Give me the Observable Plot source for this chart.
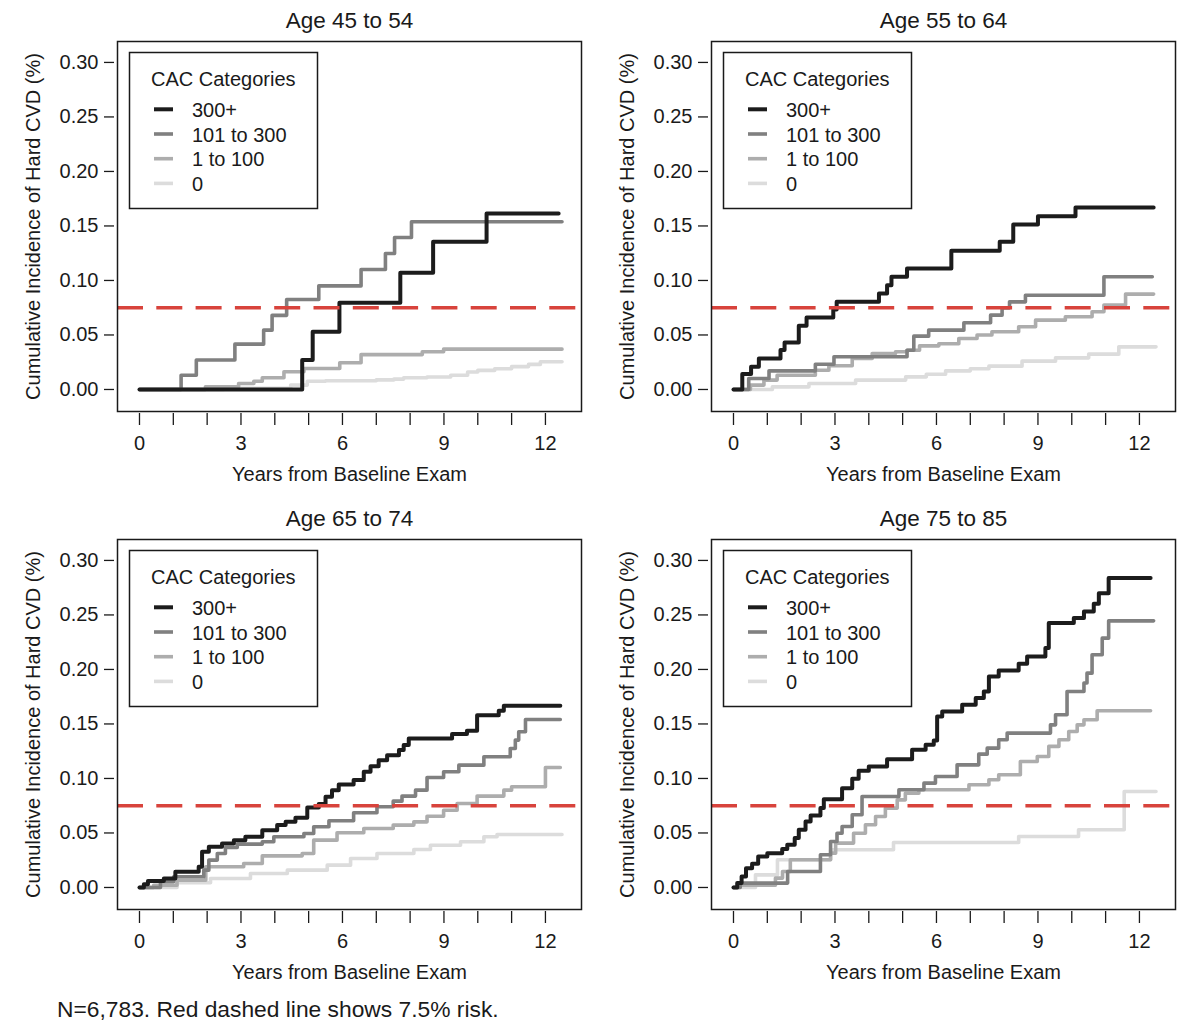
<!DOCTYPE html>
<html><head><meta charset="utf-8">
<script src="https://cdn.jsdelivr.net/npm/d3@7"></script>
<script src="https://cdn.jsdelivr.net/npm/@observablehq/plot@0.6"></script>
<style>
body{margin:0;background:#fff;}
#wrap{position:relative;width:1200px;height:1033px;font-family:"Liberation Sans",Arial,sans-serif;color:#1a1a1a;background:#fff;}
.panel{position:absolute;width:600px;height:498px;}
#caption{position:absolute;left:57px;top:998px;font-size:22.8px;line-height:22.8px;white-space:nowrap;}
</style></head><body><div id="wrap"></div><script>
// ---------- data ----------
const categories = ["300+", "101 to 300", "1 to 100", "0"];
const categoryColors = ["#1c1c1c", "#808080", "#adadad", "#dcdcdc"];
const panelTitles = ["Age 45 to 54", "Age 55 to 64", "Age 65 to 74", "Age 75 to 85"];
const xTicks = [0,1,2,3,4,5,6,7,8,9,10,11,12];
const xTickLabels = [0,3,6,9,12];
const yTicks = [0,0.05,0.10,0.15,0.20,0.25,0.30];
const riskThreshold = 0.075;
const xLabel = "Years from Baseline Exam";
const yLabel = "Cumulative Incidence of Hard CVD (%)";
const legendTitle = "CAC Categories";
const captionText = "N=6,783. Red dashed line shows 7.5% risk.";

// [years, cumulative incidence] step points
const age45_cac300 = [[0,0],[4.81,0.027],[5.12,0.053],[5.91,0.0795],[7.71,0.107],[8.68,0.1355],[10.26,0.1615],[12.39,0.1615]];
const age45_cac101 = [[0,0],[1.23,0.013],[1.68,0.027],[2.82,0.0416],[3.67,0.0544],[3.92,0.068],[4.35,0.0826],[5.30,0.095],[6.55,0.110],[7.27,0.1248],[7.54,0.1394],[8.04,0.1538],[12.49,0.1538]];
const age45_cac1 = [[0,0],[1.95,0.0024],[2.93,0.0055],[3.38,0.0076],[3.63,0.0107],[4.27,0.0162],[4.86,0.0193],[5.92,0.0245],[6.55,0.032],[8.36,0.0346],[8.99,0.037],[12.49,0.037]];
const age45_cac0 = [[0,0],[2.5,0.001],[4.47,0.004],[4.96,0.0076],[5.5,0.008],[7.0,0.0088],[7.52,0.0095],[7.81,0.0107],[8.5,0.0115],[9.2,0.013],[9.7,0.016],[10.0,0.0175],[10.5,0.019],[11.0,0.021],[11.5,0.023],[11.85,0.0254],[12.49,0.0254]];

const age55_cac300 = [[0,0],[0.26,0.0141],[0.52,0.0208],[0.75,0.0284],[1.39,0.0361],[1.51,0.0431],[1.93,0.0584],[2.16,0.066],[2.95,0.0734],[3.05,0.0804],[4.30,0.0881],[4.54,0.0957],[4.67,0.1034],[5.13,0.111],[6.44,0.1272],[7.87,0.1355],[8.27,0.1514],[9.00,0.159],[10.11,0.167],[12.42,0.167]];
const age55_cac101 = [[0,0],[0.45,0.0101],[1.05,0.0171],[2.42,0.0232],[2.97,0.030],[5.13,0.036],[5.33,0.0489],[5.77,0.0544],[6.81,0.0612],[7.60,0.0682],[7.94,0.0749],[8.16,0.0804],[8.63,0.0865],[10.95,0.1034],[12.38,0.1034]];
const age55_cac1 = [[0,0],[0.5,0.004],[0.9,0.0086],[1.29,0.013],[2.42,0.0177],[2.82,0.0217],[3.51,0.0284],[4.1,0.033],[4.79,0.0346],[5.13,0.036],[5.5,0.040],[6.07,0.042],[6.66,0.0468],[7.2,0.050],[7.64,0.0529],[8.43,0.0575],[8.93,0.0636],[9.81,0.0667],[10.6,0.0713],[10.95,0.0774],[11.59,0.0875],[12.42,0.0875]];
const age55_cac0 = [[0,0],[1.15,0.0024],[2.23,0.0055],[3.61,0.0086],[5.09,0.0116],[5.7,0.014],[6.27,0.0171],[7.0,0.019],[7.55,0.0214],[8.53,0.026],[9.52,0.029],[10.5,0.0324],[11.39,0.0391],[12.49,0.0391]];

const age65_cac300 = [[0,0],[0.13,0.003],[0.25,0.006],[0.72,0.0083],[1.06,0.0144],[1.75,0.019],[1.85,0.0327],[2.05,0.0373],[2.44,0.0404],[2.79,0.0434],[3.13,0.0465],[3.63,0.0526],[4.07,0.0572],[4.32,0.0602],[4.61,0.0639],[4.96,0.0734],[5.3,0.0765],[5.5,0.0832],[5.69,0.0893],[5.89,0.0945],[6.33,0.0985],[6.63,0.1061],[6.83,0.1113],[7.07,0.1168],[7.32,0.1214],[7.67,0.126],[7.81,0.1306],[7.96,0.1367],[9.24,0.1407],[9.68,0.1437],[9.98,0.1581],[10.62,0.1621],[10.77,0.1667],[12.44,0.1667]];
const age65_cac101 = [[0,0],[0.62,0.0052],[1.01,0.0098],[1.9,0.0159],[2.05,0.0251],[2.3,0.0312],[2.54,0.0367],[2.89,0.0398],[3.63,0.0419],[3.97,0.0465],[4.86,0.0495],[5.15,0.0557],[5.6,0.0612],[6.33,0.0685],[7.02,0.074],[7.5,0.0792],[7.76,0.0838],[8.16,0.0893],[8.5,0.1009],[8.99,0.1061],[9.44,0.1122],[10.18,0.1199],[10.96,0.1275],[11.11,0.1352],[11.21,0.1428],[11.41,0.1541],[12.44,0.1541]];
const age65_cac1 = [[0,0],[0.42,0.002],[1.11,0.0067],[1.96,0.019],[3.08,0.022],[3.63,0.029],[4.81,0.0312],[5.15,0.0434],[5.84,0.0502],[6.63,0.0541],[7.5,0.0572],[8.11,0.0602],[8.5,0.0654],[8.99,0.0709],[9.39,0.0771],[9.98,0.0838],[10.77,0.0893],[11.0,0.0924],[12.0,0.1101],[12.44,0.1101]];
const age65_cac0 = [[0,0],[1.11,0.0043],[2.1,0.0083],[3.28,0.0128],[4.37,0.0159],[5.55,0.0205],[6.24,0.0266],[7.02,0.0312],[8.11,0.0349],[8.6,0.0388],[9.49,0.0419],[10.18,0.0465],[10.57,0.0486],[12.49,0.0486]];

const age75_cac300 = [[0,0],[0.11,0.004],[0.24,0.0101],[0.37,0.0177],[0.55,0.0217],[0.73,0.0284],[1.0,0.0315],[1.44,0.0352],[1.59,0.0391],[1.81,0.0453],[1.93,0.0529],[2.13,0.0606],[2.28,0.0661],[2.57,0.0728],[2.67,0.081],[3.21,0.0911],[3.51,0.0997],[3.7,0.107],[4.0,0.111],[4.54,0.1177],[5.28,0.1263],[5.68,0.1309],[5.92,0.1349],[6.02,0.1569],[6.17,0.1615],[6.76,0.1676],[7.16,0.1737],[7.4,0.1798],[7.55,0.1936],[7.84,0.1991],[8.43,0.2052],[8.68,0.2119],[9.22,0.2196],[9.32,0.2425],[10.06,0.2471],[10.36,0.2532],[10.65,0.2602],[10.8,0.27],[11.09,0.2838],[12.33,0.2838]];
const age75_cac101 = [[0,0],[0.2,0.004],[1.6,0.0147],[2.57,0.030],[2.87,0.0422],[3.06,0.0498],[3.21,0.056],[3.51,0.0667],[3.8,0.0835],[4.89,0.0896],[5.63,0.0957],[5.97,0.1018],[6.61,0.1125],[7.25,0.1223],[7.5,0.1278],[7.84,0.1355],[8.09,0.1416],[9.37,0.1492],[9.52,0.1584],[9.86,0.1798],[10.36,0.1875],[10.45,0.1966],[10.6,0.2135],[10.9,0.2287],[11.09,0.2446],[12.42,0.2446]];
const age75_cac1 = [[0,0],[0.15,0.002],[1.24,0.0086],[1.45,0.0147],[1.68,0.0254],[2.87,0.0315],[3.02,0.0407],[3.55,0.0498],[3.9,0.0575],[4.2,0.0651],[4.49,0.0728],[4.84,0.0804],[5.08,0.0865],[5.48,0.0896],[6.96,0.0942],[7.55,0.0988],[7.84,0.1034],[8.48,0.1156],[8.98,0.1202],[9.32,0.1294],[9.62,0.1355],[9.91,0.1431],[10.16,0.1492],[10.36,0.1538],[10.75,0.1621],[12.33,0.1621]];
const age75_cac0 = [[0,0],[0.65,0.0116],[1.3,0.0254],[2.87,0.0346],[4.73,0.0413],[8.43,0.0468],[10.2,0.0529],[11.55,0.0881],[12.49,0.0881]];

const panelSeries = [
  [age45_cac300, age45_cac101, age45_cac1, age45_cac0],
  [age55_cac300, age55_cac101, age55_cac1, age55_cac0],
  [age65_cac300, age65_cac101, age65_cac1, age65_cac0],
  [age75_cac300, age75_cac101, age75_cac1, age75_cac0]
];

// ---------- drawing ----------
const FONT = "'Liberation Sans', Arial, sans-serif";
const INK = "#1a1a1a";
const RED = "#d8433c";
const lineWidths = [4, 3.6, 3.6, 3.6];
const offsets = [[0,0],[594,0],[0,498],[594,498]];
const wrap = document.getElementById("wrap");

function makePanel(p) {
  const seriesMarks = [];
  // draw lightest first so 300+ is on top
  for (let j = categories.length - 1; j >= 0; j--) {
    const rows = panelSeries[p][j].map(([t, v]) => ({t, v, category: categories[j]}));
    seriesMarks.push(Plot.line(rows, {
      x: "t", y: "v", stroke: categoryColors[j], strokeWidth: lineWidths[j],
      curve: "step-after", strokeLinejoin: "round", strokeLinecap: "round"
    }));
  }
  const svg = Plot.plot({
    width: 600, height: 498,
    marginLeft: 117, marginRight: 19, marginTop: 41, marginBottom: 87,
    style: {fontFamily: FONT, fontSize: "20px", color: INK, background: "transparent", overflow: "visible"},
    x: {domain: [-0.65, 13.066]},
    y: {domain: [-0.0202, 0.3192]},
    marks: [
      ...seriesMarks,
      Plot.ruleY([riskThreshold], {stroke: RED, strokeWidth: 3.5, strokeDasharray: "26,13.3"}),
      Plot.frame({stroke: INK, strokeWidth: 1.5}),
      Plot.axisX({ticks: xTicks, tickFormat: d => xTickLabels.includes(d) ? String(d) : "",
        tickSize: 12, tickPadding: 10, dy: 2, fontSize: 20, strokeWidth: 1.3, label: null}),
      Plot.axisY({ticks: yTicks, tickFormat: d3.format(".2f"),
        tickSize: 10, tickPadding: 6, dx: -3, fontSize: 20, strokeWidth: 1.3, label: null}),
      Plot.text([panelTitles[p]], {text: d => d, frameAnchor: "top", lineAnchor: "middle", textAnchor: "middle", dy: -21, fontSize: 22.5, fill: INK}),
      Plot.text([xLabel], {text: d => d, frameAnchor: "bottom", lineAnchor: "middle", textAnchor: "middle", dy: 63, fontSize: 20, fill: INK}),
      Plot.text([yLabel], {text: d => d, frameAnchor: "left", lineAnchor: "middle", textAnchor: "middle", dx: -84, rotate: -90, fontSize: 20, fill: INK})
    ]
  });
  // legend box (R style, inside the panel)
  const g = d3.select(svg).append("g").attr("font-family", FONT).attr("fill", INK).attr("text-anchor", "start");
  g.append("rect").attr("x", 129.5).attr("y", 52.5).attr("width", 188).attr("height", 156)
    .attr("fill", "white").attr("stroke", INK).attr("stroke-width", 1.5);
  g.append("text").attr("x", 151).attr("y", 86).attr("font-size", 20).attr("text-anchor", "start").text(legendTitle);
  categories.forEach((c, j) => {
    const yy = 109.3 + j * 24.7;
    g.append("line").attr("x1", 154).attr("x2", 173).attr("y1", yy).attr("y2", yy)
      .attr("stroke", categoryColors[j]).attr("stroke-width", lineWidths[j]);
    g.append("text").attr("x", 192).attr("y", yy + 7.5).attr("font-size", 20).attr("text-anchor", "start").text(c);
  });
  const div = document.createElement("div");
  div.className = "panel";
  div.style.left = offsets[p][0] + "px";
  div.style.top = offsets[p][1] + "px";
  div.appendChild(svg);
  wrap.appendChild(div);
}
for (let p = 0; p < 4; p++) makePanel(p);
const cap = document.createElement("div");
cap.id = "caption";
cap.textContent = captionText;
wrap.appendChild(cap);
</script></body></html>
